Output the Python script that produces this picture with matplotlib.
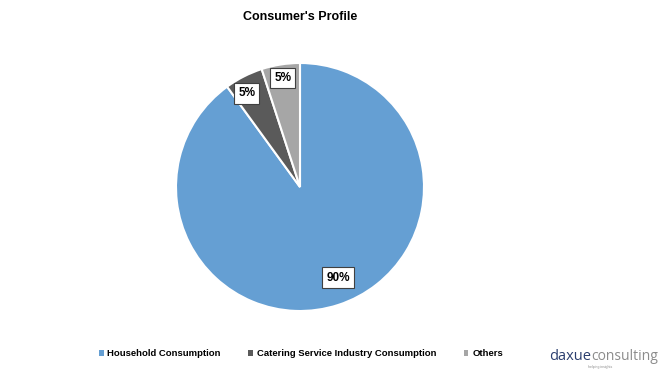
import numpy as np
import matplotlib
matplotlib.use("Agg")
import matplotlib.pyplot as plt

plt.rcParams['font.family'] = ['Liberation Sans', 'DejaVu Sans']

# data
categories = ["Household Consumption", "Catering Service Industry Consumption", "Others"]
shares = [90, 5, 5]
colors = ["#659FD3", "#5A5A5A", "#A6A6A6"]

W, H = 661, 372
fig = plt.figure(figsize=(W / 100, H / 100), dpi=100)

# pie axes: center (300, 187) px, radius 124 px
ax = fig.add_axes([176 / W, (H - 187 - 124) / H, 248 / W, 248 / H])
wedges, texts, autotexts = ax.pie(
    shares, colors=colors, startangle=90, counterclock=False,
    autopct='%d%%', pctdistance=0.88,
    wedgeprops=dict(edgecolor='white', linewidth=1.5),
    textprops=dict(fontsize=8.5, fontweight='bold', color='black'))
ax.set_aspect('equal')
ax.set_xlim(-1, 1)
ax.set_ylim(-1, 1)

# big slice label sits closer to the center
for w, t, d in zip(wedges, autotexts, [0.8, 0.88, 0.89]):
    ang = np.deg2rad((w.theta1 + w.theta2) / 2)
    t.set_position((d * np.cos(ang), d * np.sin(ang)))
    t.set_bbox(dict(facecolor='white', edgecolor='#404040', linewidth=0.8,
                    boxstyle='square,pad=0.35'))
# nudge labels a bit as in the original
x, y = autotexts[0].get_position()
autotexts[0].set_position((x + 0.06, y + 0.03))
x, y = autotexts[1].get_position()
autotexts[1].set_position((x - 0.03, y - 0.03))

fig.text(300 / W, 1 - 17 / H, "Consumer's Profile", ha='center', va='center',
         fontsize=9, fontweight='bold')

# legend
leg = fig.legend(wedges, categories, loc='center', bbox_to_anchor=(301 / W, 1 - 354 / H),
                 ncol=3, frameon=False,
                 prop=dict(weight='bold', size=6.8), handlelength=0.5, handleheight=0.5,
                 columnspacing=2.9, handletextpad=0.4)
for p in leg.get_patches():
    p.set_edgecolor('none')

# logo text
t1 = fig.text(549 / W, 1 - 357 / H, "daxue", ha='left', va='center', fontsize=10.5,
              color='#2B3E6E', family='Open Sans')
plt.annotate("consulting", xy=(1.0, 0.5), xycoords=t1, ha='left', va='center',
             fontsize=10, color='#8C8C8C', family='Open Sans')
fig.text(600 / W, 1 - 367 / H, "helping insights", ha='center', va='center', fontsize=2.5,
         color='#8C8C8C')

fig.savefig("out.png", dpi=100)
